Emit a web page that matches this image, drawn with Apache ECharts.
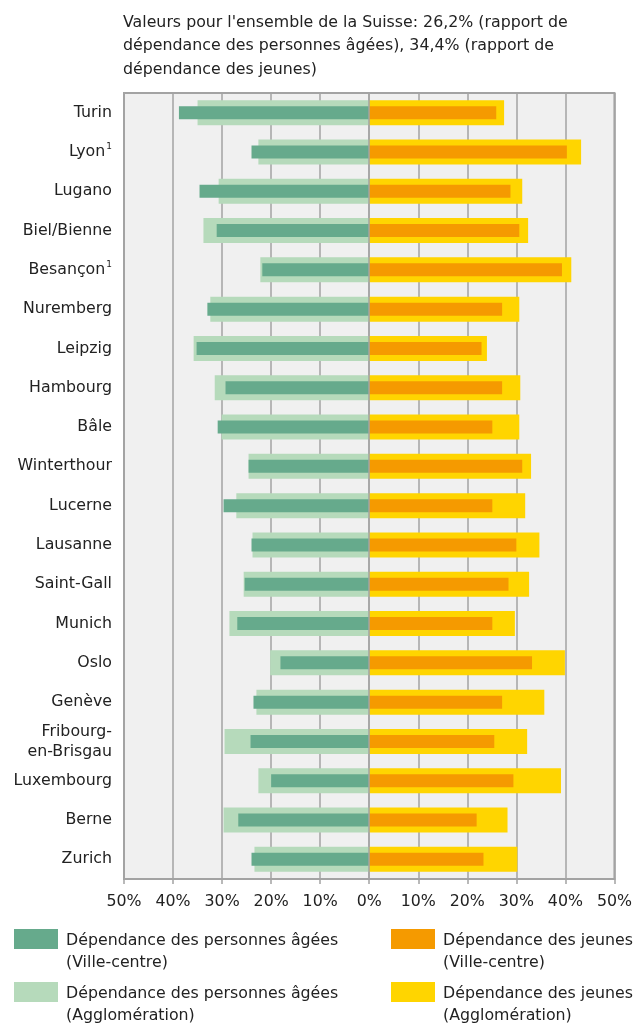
<!DOCTYPE html>
<html>
<head>
<meta charset="utf-8">
<script src="https://cdn.jsdelivr.net/npm/echarts@6/dist/echarts.min.js"></script>
<style>
html,body{margin:0;padding:0;background:#fff;}
#c{width:635px;height:1025px;}
</style>
</head>
<body>
<div id="c"></div>
<script>
var categories = ['Turin', 'Lyon¹', 'Lugano', 'Biel/Bienne', 'Besançon¹', 'Nuremberg', 'Leipzig', 'Hambourg', 'Bâle', 'Winterthour', 'Lucerne', 'Lausanne', 'Saint-Gall', 'Munich', 'Oslo', 'Genève', 'Fribourg-\nen-Brisgau', 'Luxembourg', 'Berne', 'Zurich'];
var oldCity = [38.8, 24.0, 34.6, 31.1, 21.8, 33.0, 35.2, 29.3, 30.9, 24.6, 29.7, 24.0, 25.4, 26.9, 18.1, 23.6, 24.2, 20.0, 26.7, 24.0];
var oldAgglo = [35.0, 22.6, 30.7, 33.8, 22.2, 32.4, 35.8, 31.5, 30.1, 24.6, 27.1, 23.8, 25.6, 28.5, 20.2, 23.0, 29.5, 22.6, 29.7, 23.4];
var youngCity = [25.9, 40.3, 28.8, 30.6, 39.3, 27.1, 22.9, 27.1, 25.1, 31.2, 25.1, 30.0, 28.4, 25.1, 33.2, 27.1, 25.5, 29.4, 21.9, 23.3];
var youngAgglo = [27.5, 43.2, 31.2, 32.4, 41.2, 30.6, 24.0, 30.8, 30.6, 33.0, 31.8, 34.7, 32.6, 29.7, 39.9, 35.7, 32.2, 39.1, 28.2, 30.2];
var titleText = "Valeurs pour l'ensemble de la Suisse: 26,2% (rapport de\ndépendance des personnes âgées), 34,4% (rapport de\ndépendance des jeunes)";
var names = {
  oldCity: 'Dépendance des personnes âgées (Ville-centre)',
  oldAgglo: 'Dépendance des personnes âgées (Agglomération)',
  youngCity: 'Dépendance des jeunes (Ville-centre)',
  youngAgglo: 'Dépendance des jeunes (Agglomération)'
};

var FONT = '"DejaVu Sans", sans-serif';
var FS = 15.8;
var TXT = '#222222';
var colors = { oldCity: '#66aa8c', oldAgglo: '#b6dabb', youngCity: '#f59a00', youngAgglo: '#ffd500' };

function neg(a) { return a.map(function (v) { return -v; }); }

// legend icon: a 44x20 box at the top of a 44x46 item (extra moveTo widens bbox)
var ICON = 'path://M0,0L44,0L44,20L0,20Z M0,46L0.01,46';

function legendFor(key, left, top) {
  return {
    data: [names[key]],
    left: left, top: top,
    padding: 0,
    itemWidth: 44, itemHeight: 46,
    symbolKeepAspect: false,
    selectedMode: false,
    icon: ICON,
    formatter: function (n) {
      var i = n.indexOf(' (');
      return n.slice(0, i) + '\n' + n.slice(i + 1);
    },
    textStyle: { fontFamily: FONT, fontSize: FS, color: TXT, lineHeight: 22, padding: [0, 0, 0, 3] }
  };
}

var chart = echarts.init(document.getElementById('c'), null, { renderer: 'canvas' });
chart.setOption({
  animation: false,
  backgroundColor: '#ffffff',
  title: {
    text: titleText,
    left: 118, top: 6,
    textStyle: { fontFamily: FONT, fontSize: FS, fontWeight: 'normal', color: TXT, lineHeight: 23.5 }
  },
  legend: [
    legendFor('oldCity', 14, 929),
    legendFor('oldAgglo', 14, 982),
    legendFor('youngCity', 391, 929),
    legendFor('youngAgglo', 391, 982)
  ],
  grid: {
    left: 124, right: 19, top: 93, bottom: 146,
    show: true, backgroundColor: '#f0f0f0', borderColor: '#a3a3a3', borderWidth: 2
  },
  xAxis: {
    type: 'value', min: -50, max: 50, interval: 10,
    axisLine: { show: true, lineStyle: { color: '#a3a3a3', width: 2 } },
    axisTick: { show: true, length: 5, lineStyle: { color: '#a3a3a3', width: 1.5 } },
    axisLabel: {
      fontFamily: FONT, fontSize: FS, color: TXT, margin: 15,
      formatter: function (v) { return Math.abs(v) + '%'; }
    },
    splitLine: { show: true, lineStyle: { color: '#a3a3a3', width: 1.5 } }
  },
  yAxis: [
    {
      type: 'category', data: categories, inverse: true,
      axisLine: { show: false }, axisTick: { show: false },
      axisLabel: {
        fontFamily: FONT, fontSize: FS, color: TXT, margin: 12, lineHeight: 20,
        formatter: function (v) {
          if (v.indexOf('¹') >= 0) return '{n|' + v.replace('¹', '') + '}{s|1}';
          return v;
        },
        rich: {
          n: { fontFamily: FONT, fontSize: FS, color: TXT, lineHeight: 20 },
          s: { fontFamily: FONT, fontSize: 9, color: TXT, lineHeight: 20, verticalAlign: 'top', padding: [0, 0, 0, 1] }
        }
      }
    },
    {
      type: 'category', data: categories, inverse: true, show: false
    }
  ],
  series: [
    {
      name: names.oldAgglo, type: 'bar', yAxisIndex: 0, stack: 'agglo', barWidth: 25,
      itemStyle: { color: colors.oldAgglo }, data: neg(oldAgglo)
    },
    {
      name: names.youngAgglo, type: 'bar', yAxisIndex: 0, stack: 'agglo', barWidth: 25,
      itemStyle: { color: colors.youngAgglo }, data: youngAgglo
    },
    {
      name: names.oldCity, type: 'bar', yAxisIndex: 1, stack: 'city', barWidth: 13,
      itemStyle: { color: colors.oldCity }, data: neg(oldCity)
    },
    {
      name: names.youngCity, type: 'bar', yAxisIndex: 1, stack: 'city', barWidth: 13,
      itemStyle: { color: colors.youngCity }, data: youngCity,
      markLine: {
        silent: true, symbol: 'none', label: { show: false },
        lineStyle: { color: '#a3a3a3', width: 1.5, type: 'solid' },
        data: [{ xAxis: 0 }]
      }
    }
  ]
});
</script>
</body>
</html>
